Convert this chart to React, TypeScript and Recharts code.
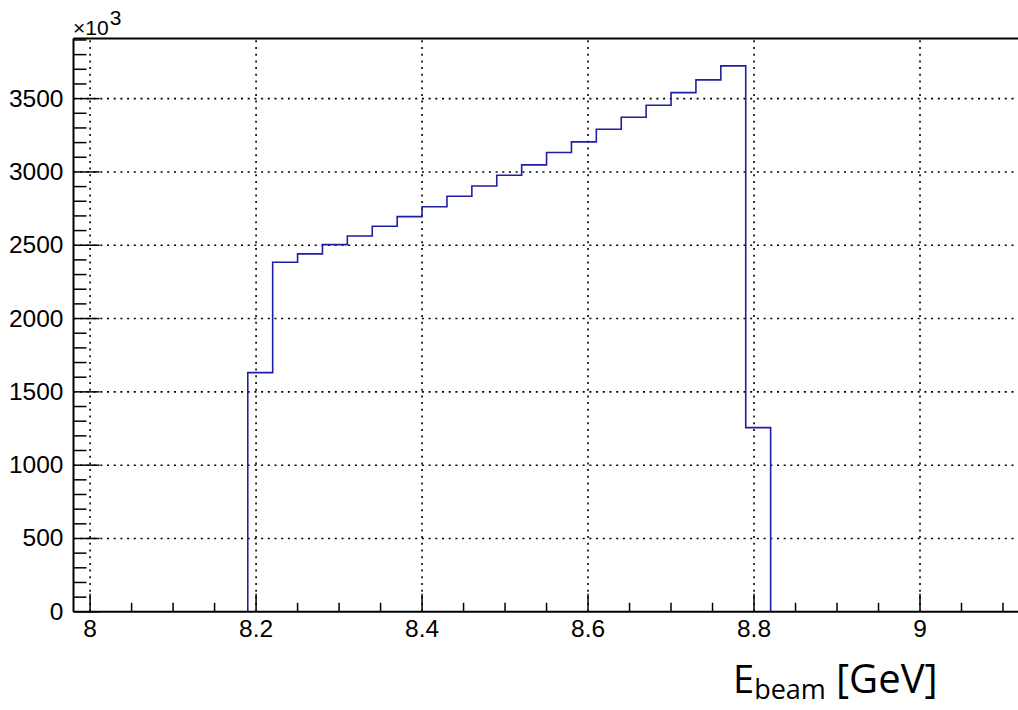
import { LineChart, Line, XAxis, YAxis, ReferenceLine } from 'recharts';

// histogram bin edges (GeV) and counts per bin (x10^3)
const binEdges = [8.19, 8.22, 8.25, 8.28, 8.31, 8.34, 8.37, 8.4, 8.43, 8.46, 8.49, 8.52, 8.55, 8.58, 8.61, 8.64, 8.67, 8.7, 8.73, 8.76, 8.79, 8.82];
const binCounts = [1631, 2384, 2441, 2504, 2563, 2630, 2695, 2763, 2834, 2904, 2977, 3048, 3132, 3205, 3291, 3373, 3455, 3541, 3628, 3723, 1256];

const xRange = [7.98, 9.12];
const yRange = [0, 3910];

const xMajor = [8, 8.2, 8.4, 8.6, 8.8, 9];
const xTicks = [8, 8.05, 8.1, 8.15, 8.2, 8.25, 8.3, 8.35, 8.4, 8.45, 8.5, 8.55, 8.6, 8.65, 8.7, 8.75, 8.8, 8.85, 8.9, 8.95, 9, 9.05, 9.1];
const yMajor = [0, 500, 1000, 1500, 2000, 2500, 3000, 3500];
const yTicks = [
  0, 100, 200, 300, 400, 500, 600, 700, 800, 900, 1000, 1100, 1200, 1300, 1400, 1500, 1600, 1700, 1800, 1900,
  2000, 2100, 2200, 2300, 2400, 2500, 2600, 2700, 2800, 2900, 3000, 3100, 3200, 3300, 3400, 3500, 3600, 3700, 3800, 3900,
];

const data = [
  { x: xRange[0], y: 0 },
  ...binEdges.map((e, i) => ({ x: e, y: i < binCounts.length ? binCounts[i] : 0 })),
  { x: xRange[1], y: 0 },
];

const isMajor = (list: number[], v: number) => list.some(m => Math.abs(m - v) < 1e-6);
const helv = { fontFamily: "'Liberation Sans', Arial, Helvetica, sans-serif" };

const XTick = (props: any) => {
  const { x, y, payload } = props;
  const major = isMajor(xMajor, payload.value);
  return (
    <g>
      <line x1={x} x2={x} y1={y} y2={y - (major ? 18 : 9)} stroke="#000" strokeWidth={1.5} />
      {major && (
        <text x={x} y={y + 25} textAnchor="middle" style={helv} fontSize={24.5} fill="#000">
          {String(+Number(payload.value).toFixed(2))}
        </text>
      )}
    </g>
  );
};

const YTick = (props: any) => {
  const { x, y, payload } = props;
  const major = isMajor(yMajor, payload.value);
  return (
    <g>
      <line x1={x} x2={x + (major ? 26 : 13)} y1={y} y2={y} stroke="#000" strokeWidth={1.5} />
      {major && (
        <text x={x - 10} y={y + 8} textAnchor="end" style={helv} fontSize={24.5} fill="#000">
          {payload.value}
        </text>
      )}
    </g>
  );
};

export default function App() {
  return (
    <div style={{ position: 'absolute', left: 0, top: 0, width: 1018, height: 710, overflow: 'hidden', background: '#fff' }}>
      <LineChart width={1040} height={710} data={data} margin={{ top: 38.5, right: 20.4, left: 63.5, bottom: 68.2 }}>
        {/* dotted grid at major ticks */}
        {xMajor.map(v => (
          <ReferenceLine key={'gx' + v} x={v} stroke="#000" strokeWidth={1.6} strokeDasharray="2 4.7" />
        ))}
        {yMajor.filter(v => v > 0).map(v => (
          <ReferenceLine key={'gy' + v} y={v} stroke="#000" strokeWidth={1.6} strokeDasharray="2 4.7" />
        ))}
        <ReferenceLine y={yRange[1]} stroke="#000" strokeWidth={2} />
        <XAxis
          dataKey="x"
          type="number"
          domain={xRange}
          allowDataOverflow
          ticks={xTicks}
          interval={0}
          tick={<XTick />}
          tickLine={false}
          tickSize={0}
          tickMargin={0}
          height={30}
          axisLine={{ stroke: '#000', strokeWidth: 2 }}
        />
        <YAxis
          type="number"
          domain={yRange}
          allowDataOverflow
          ticks={yTicks}
          interval={0}
          tick={<YTick />}
          tickLine={false}
          tickSize={0}
          tickMargin={0}
          width={10}
          axisLine={{ stroke: '#000', strokeWidth: 2 }}
        />
        <Line
          type="stepAfter"
          dataKey="y"
          stroke="#1f1fa3"
          strokeWidth={1.6}
          dot={false}
          activeDot={false}
          isAnimationActive={false}
        />
      </LineChart>
      <svg width={1018} height={710} style={{ position: 'absolute', left: 0, top: 0, pointerEvents: 'none' }}>
        <text x={73} y={35} style={helv} fontSize={21} fill="#000">
          ×10
          <tspan dy={-10} dx={1}>3</tspan>
        </text>
        <text x={733} y={693} style={{ fontFamily: "'Open Sans', 'Noto Sans', sans-serif" }} fontSize={38} fill="#000">
          E
          <tspan fontSize={27} dy={6}>beam</tspan>
          <tspan x={836} dy={-6} fontSize={40}>[GeV]</tspan>
        </text>
      </svg>
    </div>
  );
}
